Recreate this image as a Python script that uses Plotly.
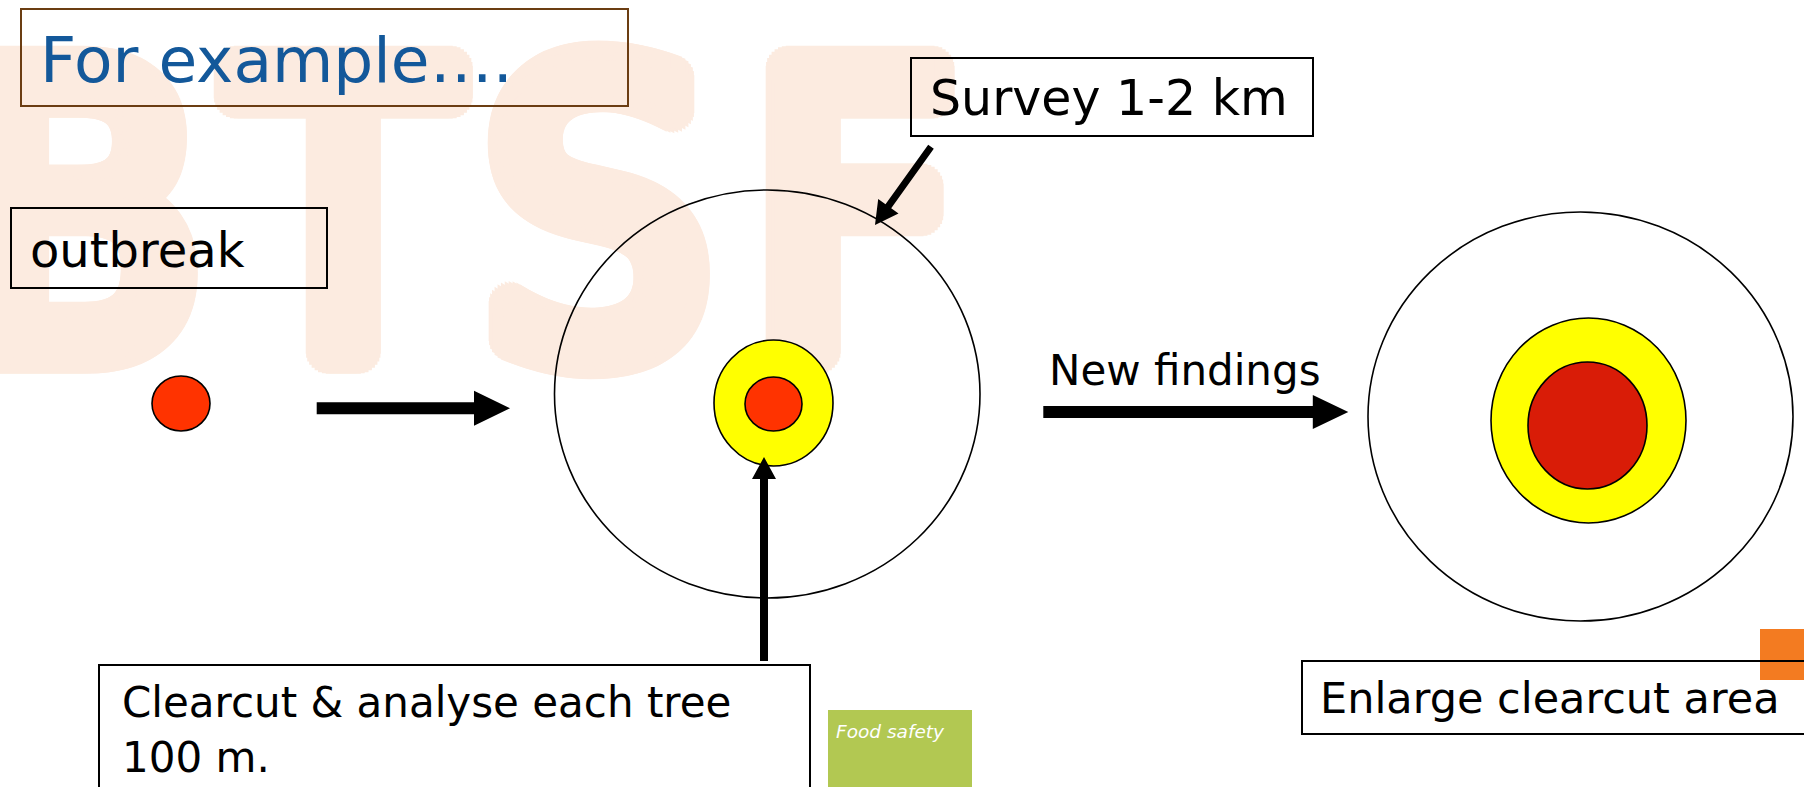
import math
import plotly.graph_objects as go

W, H = 1804, 787

# ---------------- content ----------------
watermark_letters = ["B", "T", "S", "F"]
title_text = "For example…."
label_outbreak = "outbreak"
label_survey = "Survey 1-2 km"
label_new = "New findings"
label_clearcut = ["Clearcut & analyse each tree", "100 m."]
label_enlarge = "Enlarge clearcut area"
label_footer = "Food safety"

# ---------------- geometry (pixel space) ----------------
WM_COLOR = "#fcebe0"
wm_x = [81, 343, 597, 853]
wm_y = 255
wm_size = 395
wm_grow = 20  # thickening radius of the watermark strokes


def grow_shadow(r, color):
    parts = []
    for rad, n in ((r, 32), (r * 0.66, 20), (r * 0.33, 12)):
        for k in range(n):
            a = 2 * math.pi * k / n
            parts.append(f"{rad * math.cos(a):.1f}px {rad * math.sin(a):.1f}px 0px {color}")
    return ", ".join(parts)


boxes = [  # x0, y0, x1, y1, colour, width
    (21, 9, 628, 106, "#6b3d12", 2),
    (11, 208, 327, 288, "#000000", 2),
    (911, 58, 1313, 136, "#000000", 2),
    (99, 665, 810, 800, "#000000", 2),
    (1302, 661, 1810, 734, "#000000", 2),
]

ellipses = [  # x0, y0, x1, y1, fill
    (152, 376, 210, 431, "#ff3300"),
    (554.5, 190, 980, 598, "rgba(0,0,0,0)"),
    (714, 340, 833, 466, "#ffff00"),
    (745, 377, 802, 431, "#ff3300"),
    (1368, 212, 1793, 621, "rgba(0,0,0,0)"),
    (1491, 318, 1686, 523, "#ffff00"),
    (1528, 362, 1647, 489, "#d91c07"),
]

arrows = [  # x0, y0, x1, y1, shaft, head width, head length
    (316.7, 408.3, 510, 408.3, 12, 35, 36),
    (1043.3, 412, 1348.3, 412, 12, 34, 35.5),
    (931, 146.7, 875, 225, 7, 25, 23),
    (764, 661, 764, 457, 8, 24, 22),
]


def arrow_path(x0, y0, x1, y1, shaft, head_w, head_len):
    dx, dy = x1 - x0, y1 - y0
    L = math.hypot(dx, dy)
    ux, uy = dx / L, dy / L
    px, py = -uy, ux
    bx, by = x1 - ux * head_len, y1 - uy * head_len
    s, h = shaft / 2, head_w / 2
    pts = [(x0 + px * s, y0 + py * s), (bx + px * s, by + py * s),
           (bx + px * h, by + py * h), (x1, y1),
           (bx - px * h, by - py * h), (bx - px * s, by - py * s),
           (x0 - px * s, y0 - py * s)]
    return "M " + " L ".join(f"{x:.1f},{y:.1f}" for x, y in pts) + " Z"


fig = go.Figure()

# watermark (drawn as a trace so that the shapes sit above it)
fig.add_trace(go.Scatter(
    x=wm_x, y=[wm_y] * len(watermark_letters), mode="text",
    text=watermark_letters, textposition="middle center",
    textfont=dict(family="Liberation Sans Narrow, DejaVu Sans Condensed, sans-serif",
                  size=wm_size, color=WM_COLOR,
                  shadow=grow_shadow(wm_grow, WM_COLOR)),
    hoverinfo="skip", cliponaxis=False,
))

shapes = []
shapes.append(dict(type="rect", x0=1760, y0=629, x1=1810, y1=680,
                   fillcolor="#f37b21", line=dict(width=0)))
shapes.append(dict(type="rect", x0=828, y0=710, x1=972, y1=800,
                   fillcolor="#b2c852", line=dict(width=0)))
for x0, y0, x1, y1, c, w in boxes:
    shapes.append(dict(type="rect", x0=x0, y0=y0, x1=x1, y1=y1,
                       fillcolor="rgba(0,0,0,0)", line=dict(color=c, width=w)))
for x0, y0, x1, y1, f in ellipses:
    shapes.append(dict(type="circle", x0=x0, y0=y0, x1=x1, y1=y1,
                       fillcolor=f, line=dict(color="#000000", width=1.6)))
for a in arrows:
    shapes.append(dict(type="path", path=arrow_path(*a),
                       fillcolor="#000000", line=dict(width=0)))

FONT = "DejaVu Sans, Verdana, sans-serif"


def label(text, x, baseline, size, color="#000000", lines=1, italic=False):
    top = baseline - 0.928 * size
    height = 1.164 * size + (lines - 1) * 1.3 * size
    return dict(text=text, x=x, y=top + height / 2, xref="x", yref="y",
                xanchor="left", yanchor="middle", align="left", showarrow=False,
                borderpad=0,
                font=dict(family=FONT, size=size, color=color,
                          style="italic" if italic else "normal"))


annotations = [
    label(title_text, 39, 82.7, 63, color="#13589a"),
    label(label_outbreak, 29, 266.7, 48),
    label(label_survey, 928.5, 115, 49),
    label(label_new, 1047.6, 385, 42),
    label("<br>".join(label_clearcut), 120.5, 717.3, 42, lines=2),
    label(label_enlarge, 1319.4, 713.3, 43),
    label(label_footer, 835, 738.3, 18.5, color="#ffffff", italic=True),
]

fig.update_layout(
    width=W, height=H, margin=dict(l=0, r=0, t=0, b=0, pad=0),
    paper_bgcolor="#ffffff", plot_bgcolor="#ffffff", showlegend=False,
    xaxis=dict(range=[0, W], visible=False, fixedrange=True),
    yaxis=dict(range=[H, 0], visible=False, fixedrange=True),
    shapes=shapes, annotations=annotations,
)

fig.write_html("out.html", config={"displayModeBar": False},
               post_script="document.body.style.margin='0';document.body.style.overflow='hidden';")
